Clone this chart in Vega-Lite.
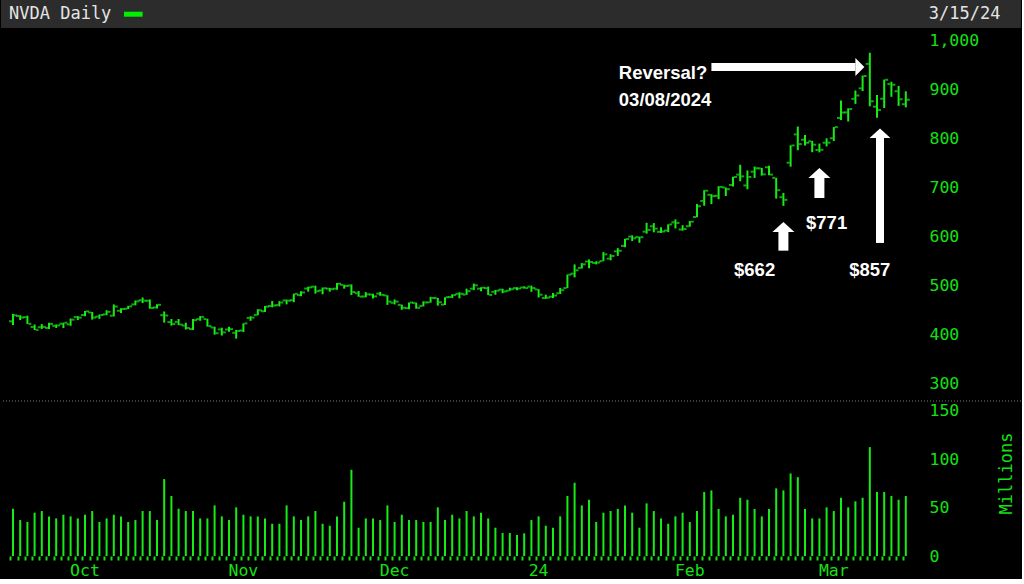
{
  "$schema": "https://vega.github.io/schema/vega-lite/v6.json",
  "background": "#000000",
  "padding": 0,
  "spacing": 0,
  "config": {"view": {"stroke": null}},
  "datasets": {
    "ohlc": [
      {"d":"2023-09-18","o":427.5,"h":442.4,"l":420.0,"c":439.7,"v":48.8},
      {"d":"2023-09-19","o":438.3,"h":439.7,"l":430.0,"c":435.2,"v":37.1},
      {"d":"2023-09-20","o":436.0,"h":439.0,"l":422.2,"c":422.4,"v":35.1},
      {"d":"2023-09-21","o":415.8,"h":421.0,"l":409.8,"c":410.2,"v":44.7},
      {"d":"2023-09-22","o":415.6,"h":421.9,"l":412.0,"c":416.1,"v":46.4},
      {"d":"2023-09-25","o":414.0,"h":424.8,"l":412.1,"c":422.2,"v":40.9},
      {"d":"2023-09-26","o":418.3,"h":421.2,"l":414.0,"c":419.1,"v":38.8},
      {"d":"2023-09-27","o":422.5,"h":424.8,"l":413.9,"c":424.7,"v":42.6},
      {"d":"2023-09-28","o":421.4,"h":433.3,"l":418.5,"c":430.9,"v":40.9},
      {"d":"2023-09-29","o":436.4,"h":438.1,"l":430.0,"c":435.0,"v":38.8},
      {"d":"2023-10-02","o":440.3,"h":448.6,"l":438.0,"c":447.8,"v":42.6},
      {"d":"2023-10-03","o":445.5,"h":446.6,"l":431.0,"c":435.2,"v":46.4},
      {"d":"2023-10-04","o":437.0,"h":441.4,"l":432.6,"c":440.4,"v":35.1},
      {"d":"2023-10-05","o":441.6,"h":450.1,"l":440.0,"c":446.9,"v":38.8},
      {"d":"2023-10-06","o":439.0,"h":461.9,"l":437.5,"c":457.6,"v":42.6},
      {"d":"2023-10-09","o":449.0,"h":453.9,"l":444.4,"c":452.7,"v":40.9},
      {"d":"2023-10-10","o":453.0,"h":458.9,"l":452.5,"c":458.0,"v":35.1},
      {"d":"2023-10-11","o":462.0,"h":469.9,"l":459.9,"c":468.1,"v":37.1},
      {"d":"2023-10-12","o":470.4,"h":476.1,"l":464.6,"c":469.5,"v":46.4},
      {"d":"2023-10-13","o":469.4,"h":472.0,"l":453.1,"c":454.6,"v":46.4},
      {"d":"2023-10-16","o":455.8,"h":462.4,"l":453.5,"c":461.0,"v":37.1},
      {"d":"2023-10-17","o":440.0,"h":447.5,"l":424.8,"c":439.4,"v":79.4},
      {"d":"2023-10-18","o":425.9,"h":432.2,"l":418.8,"c":422.0,"v":61.9},
      {"d":"2023-10-19","o":426.4,"h":432.2,"l":419.8,"c":421.0,"v":48.8},
      {"d":"2023-10-20","o":418.9,"h":424.7,"l":410.8,"c":413.9,"v":46.4},
      {"d":"2023-10-23","o":411.7,"h":432.2,"l":409.8,"c":429.8,"v":46.4},
      {"d":"2023-10-24","o":432.0,"h":438.2,"l":428.6,"c":436.6,"v":38.8},
      {"d":"2023-10-25","o":432.0,"h":432.8,"l":416.8,"c":417.8,"v":38.8},
      {"d":"2023-10-26","o":415.0,"h":416.6,"l":400.4,"c":403.3,"v":52.2},
      {"d":"2023-10-27","o":411.0,"h":414.6,"l":398.6,"c":405.0,"v":40.9},
      {"d":"2023-10-30","o":410.9,"h":416.7,"l":406.5,"c":411.6,"v":37.1},
      {"d":"2023-10-31","o":404.1,"h":410.0,"l":392.3,"c":407.8,"v":50.2},
      {"d":"2023-11-01","o":408.8,"h":423.5,"l":405.7,"c":423.3,"v":42.6},
      {"d":"2023-11-02","o":434.5,"h":437.9,"l":428.5,"c":435.1,"v":40.9},
      {"d":"2023-11-03","o":440.2,"h":452.1,"l":439.8,"c":450.1,"v":40.9},
      {"d":"2023-11-06","o":448.0,"h":458.5,"l":446.3,"c":457.5,"v":38.8},
      {"d":"2023-11-07","o":458.7,"h":468.9,"l":456.0,"c":459.6,"v":33.3},
      {"d":"2023-11-08","o":460.5,"h":468.5,"l":457.9,"c":465.7,"v":33.3},
      {"d":"2023-11-09","o":470.0,"h":471.8,"l":462.0,"c":469.5,"v":52.2},
      {"d":"2023-11-10","o":470.5,"h":483.9,"l":466.5,"c":483.4,"v":40.9},
      {"d":"2023-11-13","o":480.8,"h":488.8,"l":478.7,"c":486.2,"v":37.1},
      {"d":"2023-11-14","o":494.2,"h":498.0,"l":488.0,"c":496.6,"v":40.9},
      {"d":"2023-11-15","o":498.0,"h":500.0,"l":483.9,"c":488.9,"v":46.4},
      {"d":"2023-11-16","o":490.4,"h":496.4,"l":482.5,"c":494.8,"v":33.3},
      {"d":"2023-11-17","o":494.0,"h":495.6,"l":488.0,"c":493.0,"v":31.3},
      {"d":"2023-11-20","o":494.0,"h":505.5,"l":492.0,"c":504.1,"v":40.9},
      {"d":"2023-11-21","o":501.8,"h":502.0,"l":494.0,"c":499.4,"v":56.0},
      {"d":"2023-11-22","o":500.3,"h":502.7,"l":481.0,"c":487.2,"v":89.0},
      {"d":"2023-11-24","o":484.7,"h":489.2,"l":477.5,"c":477.8,"v":29.2},
      {"d":"2023-11-27","o":478.0,"h":487.0,"l":476.3,"c":482.4,"v":38.8},
      {"d":"2023-11-28","o":482.0,"h":483.5,"l":474.0,"c":478.2,"v":38.8},
      {"d":"2023-11-29","o":483.9,"h":487.4,"l":479.5,"c":481.4,"v":37.1},
      {"d":"2023-11-30","o":480.2,"h":480.6,"l":461.0,"c":467.7,"v":52.2},
      {"d":"2023-12-01","o":465.3,"h":472.0,"l":461.9,"c":467.7,"v":35.1},
      {"d":"2023-12-04","o":461.0,"h":461.5,"l":451.0,"c":455.1,"v":42.6},
      {"d":"2023-12-05","o":454.3,"h":466.0,"l":452.0,"c":465.7,"v":37.1},
      {"d":"2023-12-06","o":465.0,"h":465.6,"l":453.3,"c":455.0,"v":37.1},
      {"d":"2023-12-07","o":458.8,"h":468.2,"l":457.8,"c":466.0,"v":35.1},
      {"d":"2023-12-08","o":466.0,"h":477.4,"l":465.5,"c":475.1,"v":35.1},
      {"d":"2023-12-11","o":474.7,"h":475.2,"l":459.4,"c":466.3,"v":50.2},
      {"d":"2023-12-12","o":461.6,"h":476.7,"l":460.6,"c":476.6,"v":37.1},
      {"d":"2023-12-13","o":476.9,"h":482.5,"l":475.1,"c":480.9,"v":42.6},
      {"d":"2023-12-14","o":483.5,"h":486.7,"l":474.3,"c":483.5,"v":38.8},
      {"d":"2023-12-15","o":481.9,"h":494.0,"l":481.3,"c":488.9,"v":46.4},
      {"d":"2023-12-18","o":494.0,"h":504.3,"l":491.0,"c":500.8,"v":40.9},
      {"d":"2023-12-19","o":494.0,"h":497.0,"l":488.5,"c":496.0,"v":44.7},
      {"d":"2023-12-20","o":495.0,"h":498.2,"l":480.9,"c":481.1,"v":38.8},
      {"d":"2023-12-21","o":487.5,"h":491.2,"l":481.6,"c":489.9,"v":29.2},
      {"d":"2023-12-22","o":492.0,"h":493.8,"l":484.7,"c":488.3,"v":23.7},
      {"d":"2023-12-26","o":489.7,"h":496.0,"l":489.6,"c":492.8,"v":23.7},
      {"d":"2023-12-27","o":495.1,"h":496.8,"l":490.9,"c":494.2,"v":21.6},
      {"d":"2023-12-28","o":496.4,"h":498.8,"l":494.1,"c":495.2,"v":23.4},
      {"d":"2023-12-29","o":498.1,"h":500.0,"l":487.5,"c":495.2,"v":37.1},
      {"d":"2024-01-02","o":492.4,"h":493.0,"l":476.0,"c":481.7,"v":40.9},
      {"d":"2024-01-03","o":474.9,"h":481.8,"l":473.2,"c":475.7,"v":31.3},
      {"d":"2024-01-04","o":477.7,"h":485.0,"l":475.1,"c":480.0,"v":29.2},
      {"d":"2024-01-05","o":484.6,"h":495.5,"l":483.1,"c":491.0,"v":40.9},
      {"d":"2024-01-08","o":495.1,"h":522.8,"l":494.8,"c":522.5,"v":61.9},
      {"d":"2024-01-09","o":524.5,"h":543.3,"l":516.9,"c":531.4,"v":75.6},
      {"d":"2024-01-10","o":536.2,"h":546.0,"l":534.9,"c":543.5,"v":52.2},
      {"d":"2024-01-11","o":549.2,"h":553.5,"l":535.6,"c":548.2,"v":58.1},
      {"d":"2024-01-12","o":546.2,"h":549.7,"l":543.3,"c":547.1,"v":35.1},
      {"d":"2024-01-16","o":550.0,"h":568.4,"l":549.9,"c":563.8,"v":44.7},
      {"d":"2024-01-17","o":555.0,"h":564.0,"l":551.7,"c":560.5,"v":46.4},
      {"d":"2024-01-18","o":569.9,"h":576.4,"l":560.7,"c":571.1,"v":48.5},
      {"d":"2024-01-19","o":581.0,"h":595.4,"l":578.0,"c":594.9,"v":52.2},
      {"d":"2024-01-22","o":600.0,"h":602.5,"l":590.8,"c":596.5,"v":44.7},
      {"d":"2024-01-23","o":599.0,"h":600.0,"l":587.4,"c":598.7,"v":29.2},
      {"d":"2024-01-24","o":610.0,"h":628.0,"l":605.9,"c":613.6,"v":54.3},
      {"d":"2024-01-25","o":621.0,"h":627.4,"l":608.6,"c":616.2,"v":46.4},
      {"d":"2024-01-26","o":609.6,"h":618.8,"l":607.0,"c":610.3,"v":38.8},
      {"d":"2024-01-29","o":612.3,"h":624.9,"l":609.1,"c":624.7,"v":33.3},
      {"d":"2024-01-30","o":629.0,"h":634.9,"l":616.5,"c":627.7,"v":40.9},
      {"d":"2024-01-31","o":614.4,"h":623.0,"l":612.0,"c":615.3,"v":44.7},
      {"d":"2024-02-01","o":621.0,"h":631.7,"l":620.0,"c":630.3,"v":35.1},
      {"d":"2024-02-02","o":639.7,"h":666.5,"l":639.2,"c":661.6,"v":46.4},
      {"d":"2024-02-05","o":672.5,"h":694.4,"l":662.8,"c":693.3,"v":66.0},
      {"d":"2024-02-06","o":685.0,"h":686.3,"l":666.0,"c":682.2,"v":67.7},
      {"d":"2024-02-07","o":683.0,"h":702.5,"l":676.0,"c":701.0,"v":48.5},
      {"d":"2024-02-08","o":699.9,"h":700.0,"l":682.6,"c":696.4,"v":40.9},
      {"d":"2024-02-09","o":705.0,"h":721.9,"l":702.1,"c":721.3,"v":42.6},
      {"d":"2024-02-12","o":726.0,"h":746.1,"l":712.5,"c":722.5,"v":60.1},
      {"d":"2024-02-13","o":704.0,"h":734.5,"l":696.2,"c":721.3,"v":58.1},
      {"d":"2024-02-14","o":732.0,"h":742.4,"l":719.4,"c":739.0,"v":48.5},
      {"d":"2024-02-15","o":738.7,"h":739.8,"l":724.0,"c":726.6,"v":40.9},
      {"d":"2024-02-16","o":741.0,"h":744.0,"l":725.0,"c":726.1,"v":48.5},
      {"d":"2024-02-20","o":719.5,"h":719.6,"l":677.3,"c":694.5,"v":69.8},
      {"d":"2024-02-21","o":680.1,"h":688.9,"l":662.5,"c":674.7,"v":67.7},
      {"d":"2024-02-22","o":750.3,"h":785.8,"l":742.2,"c":785.4,"v":85.2},
      {"d":"2024-02-23","o":807.9,"h":823.9,"l":775.7,"c":788.2,"v":81.4},
      {"d":"2024-02-26","o":797.0,"h":806.5,"l":785.1,"c":790.9,"v":48.5},
      {"d":"2024-02-27","o":793.8,"h":794.8,"l":771.6,"c":787.0,"v":38.8},
      {"d":"2024-02-28","o":776.2,"h":789.3,"l":771.3,"c":776.6,"v":38.8},
      {"d":"2024-02-29","o":790.9,"h":799.9,"l":783.5,"c":791.1,"v":50.2},
      {"d":"2024-03-01","o":800.0,"h":823.0,"l":794.4,"c":822.8,"v":46.4},
      {"d":"2024-03-04","o":841.3,"h":877.0,"l":837.2,"c":852.4,"v":60.1},
      {"d":"2024-03-05","o":852.7,"h":861.0,"l":834.2,"c":859.6,"v":50.2},
      {"d":"2024-03-06","o":880.2,"h":897.2,"l":870.0,"c":887.0,"v":56.4},
      {"d":"2024-03-07","o":901.6,"h":927.7,"l":896.0,"c":926.7,"v":60.1},
      {"d":"2024-03-08","o":951.4,"h":974.0,"l":865.1,"c":875.3,"v":112.4},
      {"d":"2024-03-11","o":864.3,"h":888.0,"l":841.7,"c":857.7,"v":66.0},
      {"d":"2024-03-12","o":880.5,"h":919.6,"l":861.5,"c":919.1,"v":66.0},
      {"d":"2024-03-13","o":910.6,"h":915.0,"l":884.4,"c":908.9,"v":61.9},
      {"d":"2024-03-14","o":895.8,"h":906.5,"l":866.0,"c":879.4,"v":58.1},
      {"d":"2024-03-15","o":869.3,"h":895.5,"l":863.0,"c":878.4,"v":61.9}
    ]
  },
  "vconcat": [
    {
      "width": 1020,
      "height": 400,
      "layer": [
        {
          "data": {"name": "ohlc"},
          "mark": {"type": "rule", "color": "#17ec17", "strokeWidth": 2},
          "encoding": {
            "x": {"field": "d", "type": "ordinal", "scale": {"type": "band", "paddingInner": 0, "paddingOuter": 0, "range": [8.4, 908.4]}, "axis": null},
            "y": {"field": "l", "type": "quantitative",
              "scale": {"domain": [267.4, 1081.4], "nice": false, "zero": false},
              "axis": {"orient": "right", "offset": -92, "values": [300,400,500,600,700,800,900,1000], "format": ",.0f", "ticks": false, "domain": false, "grid": false, "labelPadding": 0, "title": null, "labelFont": "DejaVu Sans Mono", "labelFontSize": 16.5, "labelColor": "#14e014", "labelAlign": "left", "labelBaseline": "middle"}},
            "y2": {"field": "h"}
          }
        },
        {
          "data": {"values": [{"top": 1081.4, "bot": 1024.5}]},
          "mark": {"type": "rect", "color": "#2c2c2c"},
          "encoding": {
            "y": {"field": "bot", "type": "quantitative", "title": null},
            "y2": {"field": "top"}
          }
        },
        {
          "data": {"name": "ohlc"},
          "mark": {"type": "tick", "color": "#17ec17", "size": 3, "thickness": 2, "xOffset": -2.5},
          "encoding": {
            "x": {"field": "d", "type": "ordinal", "axis": null},
            "y": {"field": "o", "type": "quantitative", "title": null}
          }
        },
        {
          "data": {"name": "ohlc"},
          "mark": {"type": "tick", "color": "#17ec17", "size": 3, "thickness": 2, "xOffset": 2.5},
          "encoding": {
            "x": {"field": "d", "type": "ordinal", "axis": null},
            "y": {"field": "c", "type": "quantitative", "title": null}
          }
        },
        {
          "data": {"values": [{"d": "2023-09-18", "y": 1052.5, "t": "NVDA Daily"}]},
          "mark": {"type": "text", "align": "left", "baseline": "middle", "dx": -4, "font": "DejaVu Sans Mono", "fontSize": 17, "color": "#e4e4e4"},
          "encoding": {
            "x": {"field": "d", "type": "ordinal", "axis": null},
            "y": {"field": "y", "type": "quantitative", "title": null},
            "text": {"field": "t"}
          }
        },
        {
          "data": {"values": [{"d": "2024-03-15", "y": 1052.5, "t": "3/15/24"}]},
          "mark": {"type": "text", "align": "left", "baseline": "middle", "dx": 23, "font": "DejaVu Sans Mono", "fontSize": 17, "color": "#e4e4e4"},
          "encoding": {
            "x": {"field": "d", "type": "ordinal", "axis": null},
            "y": {"field": "y", "type": "quantitative", "title": null},
            "text": {"field": "t"}
          }
        },
        {
          "data": {"values": [{"d": "2023-10-09", "d2": "2023-10-12", "y": 1052.5}]},
          "mark": {"type": "rule", "color": "#00f000", "strokeWidth": 5, "xOffset": 3},
          "encoding": {
            "x": {"field": "d", "type": "ordinal", "axis": null},
            "x2": {"field": "d2"},
            "y": {"field": "y", "type": "quantitative", "title": null}
          }
        },
        {
          "data": {"values": [{"d": "2024-02-06", "d2": "2024-03-06", "y": 945}]},
          "mark": {"type": "rule", "color": "#ffffff", "strokeWidth": 8, "strokeCap": "butt"},
          "encoding": {
            "x": {"field": "d", "type": "ordinal", "axis": null},
            "x2": {"field": "d2"},
            "y": {"field": "y", "type": "quantitative", "title": null}
          }
        },
        {
          "data": {"values": [{"d": "2024-03-06", "y": 945}]},
          "mark": {"type": "point", "shape": "M0,-1L1,0L0,1Z", "size": 324, "filled": true, "opacity": 1, "color": "#ffffff", "strokeWidth": 0},
          "encoding": {
            "x": {"field": "d", "type": "ordinal", "axis": null},
            "y": {"field": "y", "type": "quantitative", "title": null}
          }
        },
        {
          "data": {"values": [{"d": "2024-02-21", "t": 609.3, "b": 571.3}, {"d": "2024-02-28", "t": 719.2, "b": 678.5}]},
          "mark": {"type": "rule", "color": "#ffffff", "strokeWidth": 10, "strokeCap": "butt"},
          "encoding": {
            "x": {"field": "d", "type": "ordinal", "axis": null},
            "y": {"field": "t", "type": "quantitative", "title": null},
            "y2": {"field": "b"}
          }
        },
        {
          "data": {"values": [{"d": "2024-02-21", "t": 609.3}, {"d": "2024-02-28", "t": 719.2}]},
          "mark": {"type": "point", "shape": "M-1.1,0L0,-1L1.1,0Z", "size": 400, "filled": true, "opacity": 1, "color": "#ffffff", "strokeWidth": 0},
          "encoding": {
            "x": {"field": "d", "type": "ordinal", "axis": null},
            "y": {"field": "t", "type": "quantitative", "title": null}
          }
        },
        {
          "data": {"values": [{"d": "2024-03-11", "t": 800.6, "b": 587}]},
          "mark": {"type": "rule", "color": "#ffffff", "strokeWidth": 8, "strokeCap": "butt", "xOffset": 3},
          "encoding": {
            "x": {"field": "d", "type": "ordinal", "axis": null},
            "y": {"field": "t", "type": "quantitative", "title": null},
            "y2": {"field": "b"}
          }
        },
        {
          "data": {"values": [{"d": "2024-03-11", "t": 800.6}]},
          "mark": {"type": "point", "shape": "M-1.1,0L0,-1L1.1,0Z", "size": 361, "filled": true, "opacity": 1, "color": "#ffffff", "strokeWidth": 0, "xOffset": 3},
          "encoding": {
            "x": {"field": "d", "type": "ordinal", "axis": null},
            "y": {"field": "t", "type": "quantitative", "title": null}
          }
        },
        {
          "data": {"values": [{"d": "2024-01-18", "y": 933, "t": "Reversal?"}, {"d": "2024-01-18", "y": 878, "t": "03/08/2024"}]},
          "mark": {"type": "text", "align": "left", "baseline": "middle", "dx": 1, "font": "Liberation Sans", "fontWeight": "bold", "fontSize": 18.5, "color": "#ffffff"},
          "encoding": {
            "x": {"field": "d", "type": "ordinal", "axis": null},
            "y": {"field": "y", "type": "quantitative", "title": null},
            "text": {"field": "t"}
          }
        },
        {
          "data": {"values": [{"d": "2024-02-14", "y": 532, "t": "$662"}, {"d": "2024-02-29", "y": 627.6, "t": "$771"}, {"d": "2024-03-08", "y": 532, "t": "$857"}]},
          "mark": {"type": "text", "align": "center", "baseline": "middle", "font": "Liberation Sans", "fontWeight": "bold", "fontSize": 18.5, "color": "#ffffff"},
          "encoding": {
            "x": {"field": "d", "type": "ordinal", "axis": null},
            "y": {"field": "y", "type": "quantitative", "title": null},
            "text": {"field": "t"}
          }
        }
      ]
    },
    {
      "width": 1020,
      "height": 155,
      "layer": [
        {
          "data": {"name": "ohlc"},
          "mark": {"type": "bar", "color": "#17ec17", "size": 2},
          "encoding": {
            "x": {"field": "d", "type": "ordinal",
              "scale": {"type": "band", "paddingInner": 0, "paddingOuter": 0, "range": [8.4, 908.4]},
              "axis": {"orient": "bottom", "title": null, "labelAngle": 0, "labelOverlap": false, "domain": false, "ticks": true, "tickSize": 4, "tickWidth": 2, "tickColor": "#14e014", "bandPosition": 0.22, "labelPadding": 2, "labelFont": "DejaVu Sans Mono", "labelFontSize": 16.5, "labelColor": "#14e014",
                "labelExpr": "datum.value == '2023-10-02' ? 'Oct' : datum.value == '2023-11-01' ? 'Nov' : datum.value == '2023-12-01' ? 'Dec' : datum.value == '2024-01-02' ? '24' : datum.value == '2024-02-01' ? 'Feb' : datum.value == '2024-03-01' ? 'Mar' : ''"}},
            "y": {"field": "v", "type": "quantitative",
              "scale": {"domain": [0, 160], "nice": false},
              "axis": {"orient": "right", "offset": -92, "values": [0, 50, 100, 150], "ticks": false, "domain": false, "grid": false, "labelPadding": 0, "labelAlign": "left", "labelBaseline": "middle", "labelFont": "DejaVu Sans Mono", "labelFontSize": 16.5, "labelColor": "#14e014", "title": "Millions", "titleFont": "DejaVu Sans Mono", "titleFontSize": 17, "titleFontWeight": "normal", "titleColor": "#14e014", "titleAngle": 270, "titlePadding": 57, "titleY": 72}}
          }
        },
        {
          "data": {"values": [{"y": 160}]},
          "mark": {"type": "rule", "color": "#7a7a7a", "strokeDash": [1, 2], "strokeWidth": 1},
          "encoding": {
            "y": {"field": "y", "type": "quantitative", "title": "Millions"}
          }
        }
      ]
    }
  ]
}
